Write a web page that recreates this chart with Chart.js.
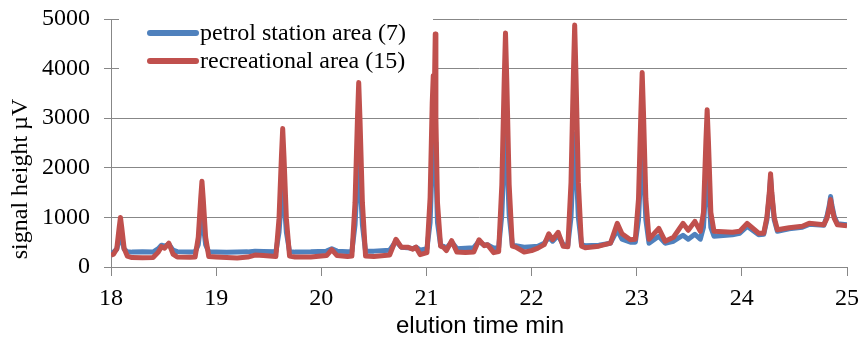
<!DOCTYPE html>
<html>
<head>
<meta charset="utf-8">
<script src="https://cdn.jsdelivr.net/npm/chart.js@4"></script>
<style>
  html, body { margin: 0; padding: 0; background: #fff; }
  #wrap { width: 861px; height: 339px; position: relative; }
</style>
</head>
<body>
<div id="wrap"><canvas id="chromChart"></canvas></div>
<script>
// elution time (min) and signal heights (µV)
const times = [
  18.00, 18.025, 18.055, 18.078, 18.09, 18.102, 18.125, 18.155, 18.20, 18.30,
  18.40, 18.45, 18.48, 18.51, 18.55, 18.59, 18.63, 18.75, 18.80, 18.83,
  18.853, 18.865, 18.877, 18.90, 18.93, 19.00, 19.10, 19.20, 19.30, 19.37,
  19.45, 19.568, 19.598, 19.621, 19.633, 19.645, 19.668, 19.698, 19.75, 19.90,
  20.05, 20.10, 20.15, 20.25, 20.291, 20.321, 20.344, 20.356, 20.368, 20.391,
  20.421, 20.50, 20.65, 20.71, 20.76, 20.82, 20.87, 20.90, 20.94, 21.005,
  21.035, 21.055, 21.065, 21.078, 21.084, 21.09, 21.105, 21.135, 21.16, 21.19,
  21.24, 21.29, 21.37, 21.45, 21.50, 21.55, 21.58, 21.64, 21.687, 21.717,
  21.74, 21.752, 21.764, 21.787, 21.817, 21.85, 21.93, 22.00, 22.06, 22.12,
  22.164, 22.20, 22.253, 22.30, 22.345, 22.375, 22.398, 22.41, 22.422, 22.445,
  22.475, 22.51, 22.64, 22.75, 22.815, 22.86, 22.94, 22.987, 23.017, 23.04,
  23.052, 23.064, 23.087, 23.117, 23.21, 23.27, 23.35, 23.44, 23.49, 23.553,
  23.605, 23.635, 23.658, 23.67, 23.682, 23.705, 23.735, 23.91, 23.98, 24.05,
  24.16, 24.208, 24.238, 24.261, 24.273, 24.285, 24.308, 24.338, 24.45, 24.575,
  24.64, 24.779, 24.809, 24.832, 24.844, 24.856, 24.879, 24.909, 25.00
];

const petrol = [
  250, 300, 360, 560, 680, 560, 360, 310, 300, 305,
  300, 370, 440, 420, 460, 340, 310, 300, 305, 450,
  860, 1050, 860, 450, 305, 300, 295, 300, 305, 320,
  315, 305, 700, 1380, 1700, 1380, 700, 315, 300, 305,
  320, 370, 320, 310, 315, 850, 1780, 2200, 1780, 850,
  320, 320, 340, 520, 400, 390, 370, 400, 340, 370,
  900, 2100, 2500, 2650, 2500, 2000, 900, 430, 420, 380,
  500, 370, 380, 390, 520, 440, 450, 380, 395, 1050,
  2300, 2880, 2300, 1050, 440, 430, 400, 410, 420, 480,
  600, 520, 640, 450, 440, 1000, 2150, 2680, 2150, 1000,
  450, 430, 440, 480, 750, 560, 500, 500, 950, 2000,
  2500, 2000, 950, 480, 620, 480, 520, 640, 560, 660,
  560, 800, 1680, 2100, 1680, 800, 620, 650, 680, 820,
  650, 660, 950, 1440, 1800, 1440, 950, 720, 770, 800,
  860, 840, 1020, 1250, 1420, 1250, 1020, 870, 850
];

const recreational = [
  240, 260, 370, 800, 1000, 800, 370, 220, 190, 185,
  190, 300, 410, 380, 480, 260, 200, 195, 200, 600,
  1380, 1730, 1380, 600, 210, 200, 190, 180, 200, 240,
  230, 210, 980, 2230, 2790, 2230, 980, 220, 200, 200,
  230, 350, 230, 210, 220, 1300, 2980, 3720, 2980, 1300,
  220, 210, 240, 560, 400, 400, 360, 400, 250, 290,
  1400, 3300, 3860, 3870, 4700, 3000, 1300, 420, 400, 330,
  530, 300, 290, 300, 550, 430, 450, 290, 310, 1650,
  3780, 4720, 3780, 1650, 420, 400, 300, 330, 380, 450,
  670, 550, 700, 420, 410, 1700, 3900, 4880, 3900, 1700,
  420, 390, 420, 480, 880, 670, 550, 560, 1370, 3140,
  3920, 3140, 1370, 560, 780, 520, 600, 880, 740, 920,
  720, 1100, 2540, 3170, 2540, 1100, 720, 700, 720, 880,
  680, 680, 1000, 1500, 1880, 1500, 1000, 750, 790, 820,
  880, 850, 980, 1200, 1360, 1200, 980, 850, 830
];

const seriesNames = ['petrol station area (7)', 'recreational area (15)'];
const seriesColors = ['#4f81bd', '#c0504d'];
const xTicks = [18, 19, 20, 21, 22, 23, 24, 25];
const yTicks = [0, 1000, 2000, 3000, 4000, 5000];
const xTitle = 'elution time min';
const yTitle = 'signal height µV';

const gridColor = '#878787';
const serif = '"Liberation Serif", "Times New Roman", serif';

function toPoints(values) {
  return times.map((t, i) => ({ x: t, y: values[i] }));
}

// white legend box over the top gridlines, plus axis titles
const decorations = {
  id: 'decorations',
  beforeDatasetsDraw(chart) {
    const ctx = chart.ctx;
    ctx.save();
    ctx.fillStyle = '#fff';
    ctx.fillRect(119, 6, 314, 72);
    ctx.font = '24px ' + serif;
    ctx.textBaseline = 'middle';
    ctx.fillStyle = '#000';
    const rows = [33, 61];
    rows.forEach((y, i) => {
      ctx.strokeStyle = seriesColors[i];
      ctx.lineWidth = 6;
      ctx.lineCap = 'round';
      ctx.beginPath();
      ctx.moveTo(150, y);
      ctx.lineTo(196, y);
      ctx.stroke();
      ctx.fillText(seriesNames[i], 200, y + 1);
    });
    ctx.restore();
  },
  afterDraw(chart) {
    const ctx = chart.ctx;
    ctx.save();
    ctx.fillStyle = '#000';
    ctx.textAlign = 'center';
    ctx.textBaseline = 'middle';
    ctx.font = '24px "Liberation Sans", Arial, sans-serif';
    ctx.fillText(xTitle, 480, 326);
    ctx.translate(21, 179);
    ctx.rotate(-Math.PI / 2);
    ctx.font = '24px ' + serif;
    ctx.fillText(yTitle, 0, 0);
    ctx.restore();
  }
};

new Chart(document.getElementById('chromChart'), {
  type: 'line',
  data: {
    datasets: [
      {
        label: seriesNames[0],
        data: toPoints(petrol),
        borderColor: seriesColors[0],
        borderWidth: 5,
        pointRadius: 0,
        tension: 0,
        borderJoinStyle: 'round',
        order: 2
      },
      {
        label: seriesNames[1],
        data: toPoints(recreational),
        borderColor: seriesColors[1],
        borderWidth: 5,
        pointRadius: 0,
        tension: 0,
        borderJoinStyle: 'round',
        order: 1
      }
    ]
  },
  options: {
    responsive: true,
    maintainAspectRatio: false,
    animation: false,
    layout: { padding: { top: 19, right: 14, left: 0, bottom: 0 } },
    plugins: {
      legend: { display: false },
      tooltip: { enabled: false }
    },
    scales: {
      x: {
        type: 'linear',
        min: 18,
        max: 25,
        afterFit(scale) {
          scale.height = 72;
          scale.paddingLeft = 0;
          scale.paddingRight = 0;
        },
        afterBuildTicks(scale) { scale.ticks = xTicks.map(v => ({ value: v })); },
        grid: { drawOnChartArea: false, tickLength: 9, color: gridColor, lineWidth: 1 },
        border: { color: gridColor, width: 1 },
        ticks: { color: '#000', font: { family: serif, size: 24 }, padding: 8, maxRotation: 0 }
      },
      y: {
        min: 0,
        max: 5000,
        afterFit(scale) {
          scale.width = 111;
          scale.paddingTop = 0;
          scale.paddingBottom = 0;
        },
        afterBuildTicks(scale) { scale.ticks = yTicks.map(v => ({ value: v })); },
        grid: { color: gridColor, tickLength: 7, lineWidth: 1 },
        border: { color: gridColor, width: 1 },
        ticks: {
          color: '#000',
          font: { family: serif, size: 24 },
          padding: 14,
          callback: v => String(v)
        }
      }
    }
  },
  plugins: [decorations]
});
</script>
</body>
</html>
